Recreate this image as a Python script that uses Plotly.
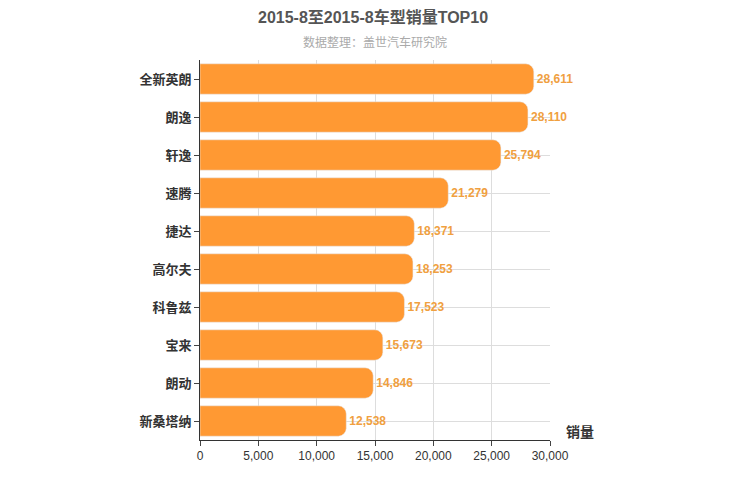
import plotly.graph_objects as go

models = ["全新英朗", "朗逸", "轩逸", "速腾", "捷达", "高尔夫", "科鲁兹", "宝来", "朗动", "新桑塔纳"]
sales = [28611, 28110, 25794, 21279, 18371, 18253, 17523, 15673, 14846, 12538]
x_ticks = [0, 5000, 10000, 15000, 20000, 25000, 30000]

font = "Liberation Sans, Noto Sans CJK SC"
fig = go.Figure(go.Bar(
    y=models, x=sales, orientation="h",
    marker=dict(color="#FF9933", cornerradius=8),
    width=0.8,
    text=[f"{v:,}" for v in sales], textposition="outside",
    textfont=dict(color="#F0A040", size=12, family=font, weight="bold"),
    cliponaxis=False,
))

# page renders with an ~8px body offset, so margins are shifted to compensate
fig.update_layout(
    width=750, height=500,
    margin=dict(l=192, r=208, t=52, b=68, autoexpand=False),
    plot_bgcolor="white", paper_bgcolor="white",
    font=dict(family=font, color="#333"),
    showlegend=False,
    title=dict(text="<b>2015-8至2015-8车型销量TOP10</b>", x=0.4867, y=0.982,
               xanchor="center", yanchor="middle", font=dict(size=16, color="#555")),
    annotations=[
        dict(text="数据整理：盖世汽车研究院", x=0.5, y=1.045, xref="paper", yref="paper",
             xanchor="center", yanchor="middle", showarrow=False, font=dict(size=12, color="#aaa")),
        dict(text="<b>销量</b>", x=1.04, y=-0.005, xref="paper", yref="paper",
             xanchor="left", yanchor="bottom", showarrow=False, font=dict(size=14, color="#333")),
    ],
)
fig.update_xaxes(range=[0, 30000], tickvals=x_ticks, tickformat=",", showgrid=True,
                 gridcolor="#ddd", showline=True, linecolor="#333", ticks="outside",
                 tickfont=dict(size=12, color="#333"), zeroline=False)
fig.update_yaxes(autorange="reversed", showgrid=True, gridcolor="#ddd", showline=True,
                 linecolor="#333", ticks="outside", tickfont=dict(size=13, color="#333", weight="bold"))

fig.write_html("out.html")
